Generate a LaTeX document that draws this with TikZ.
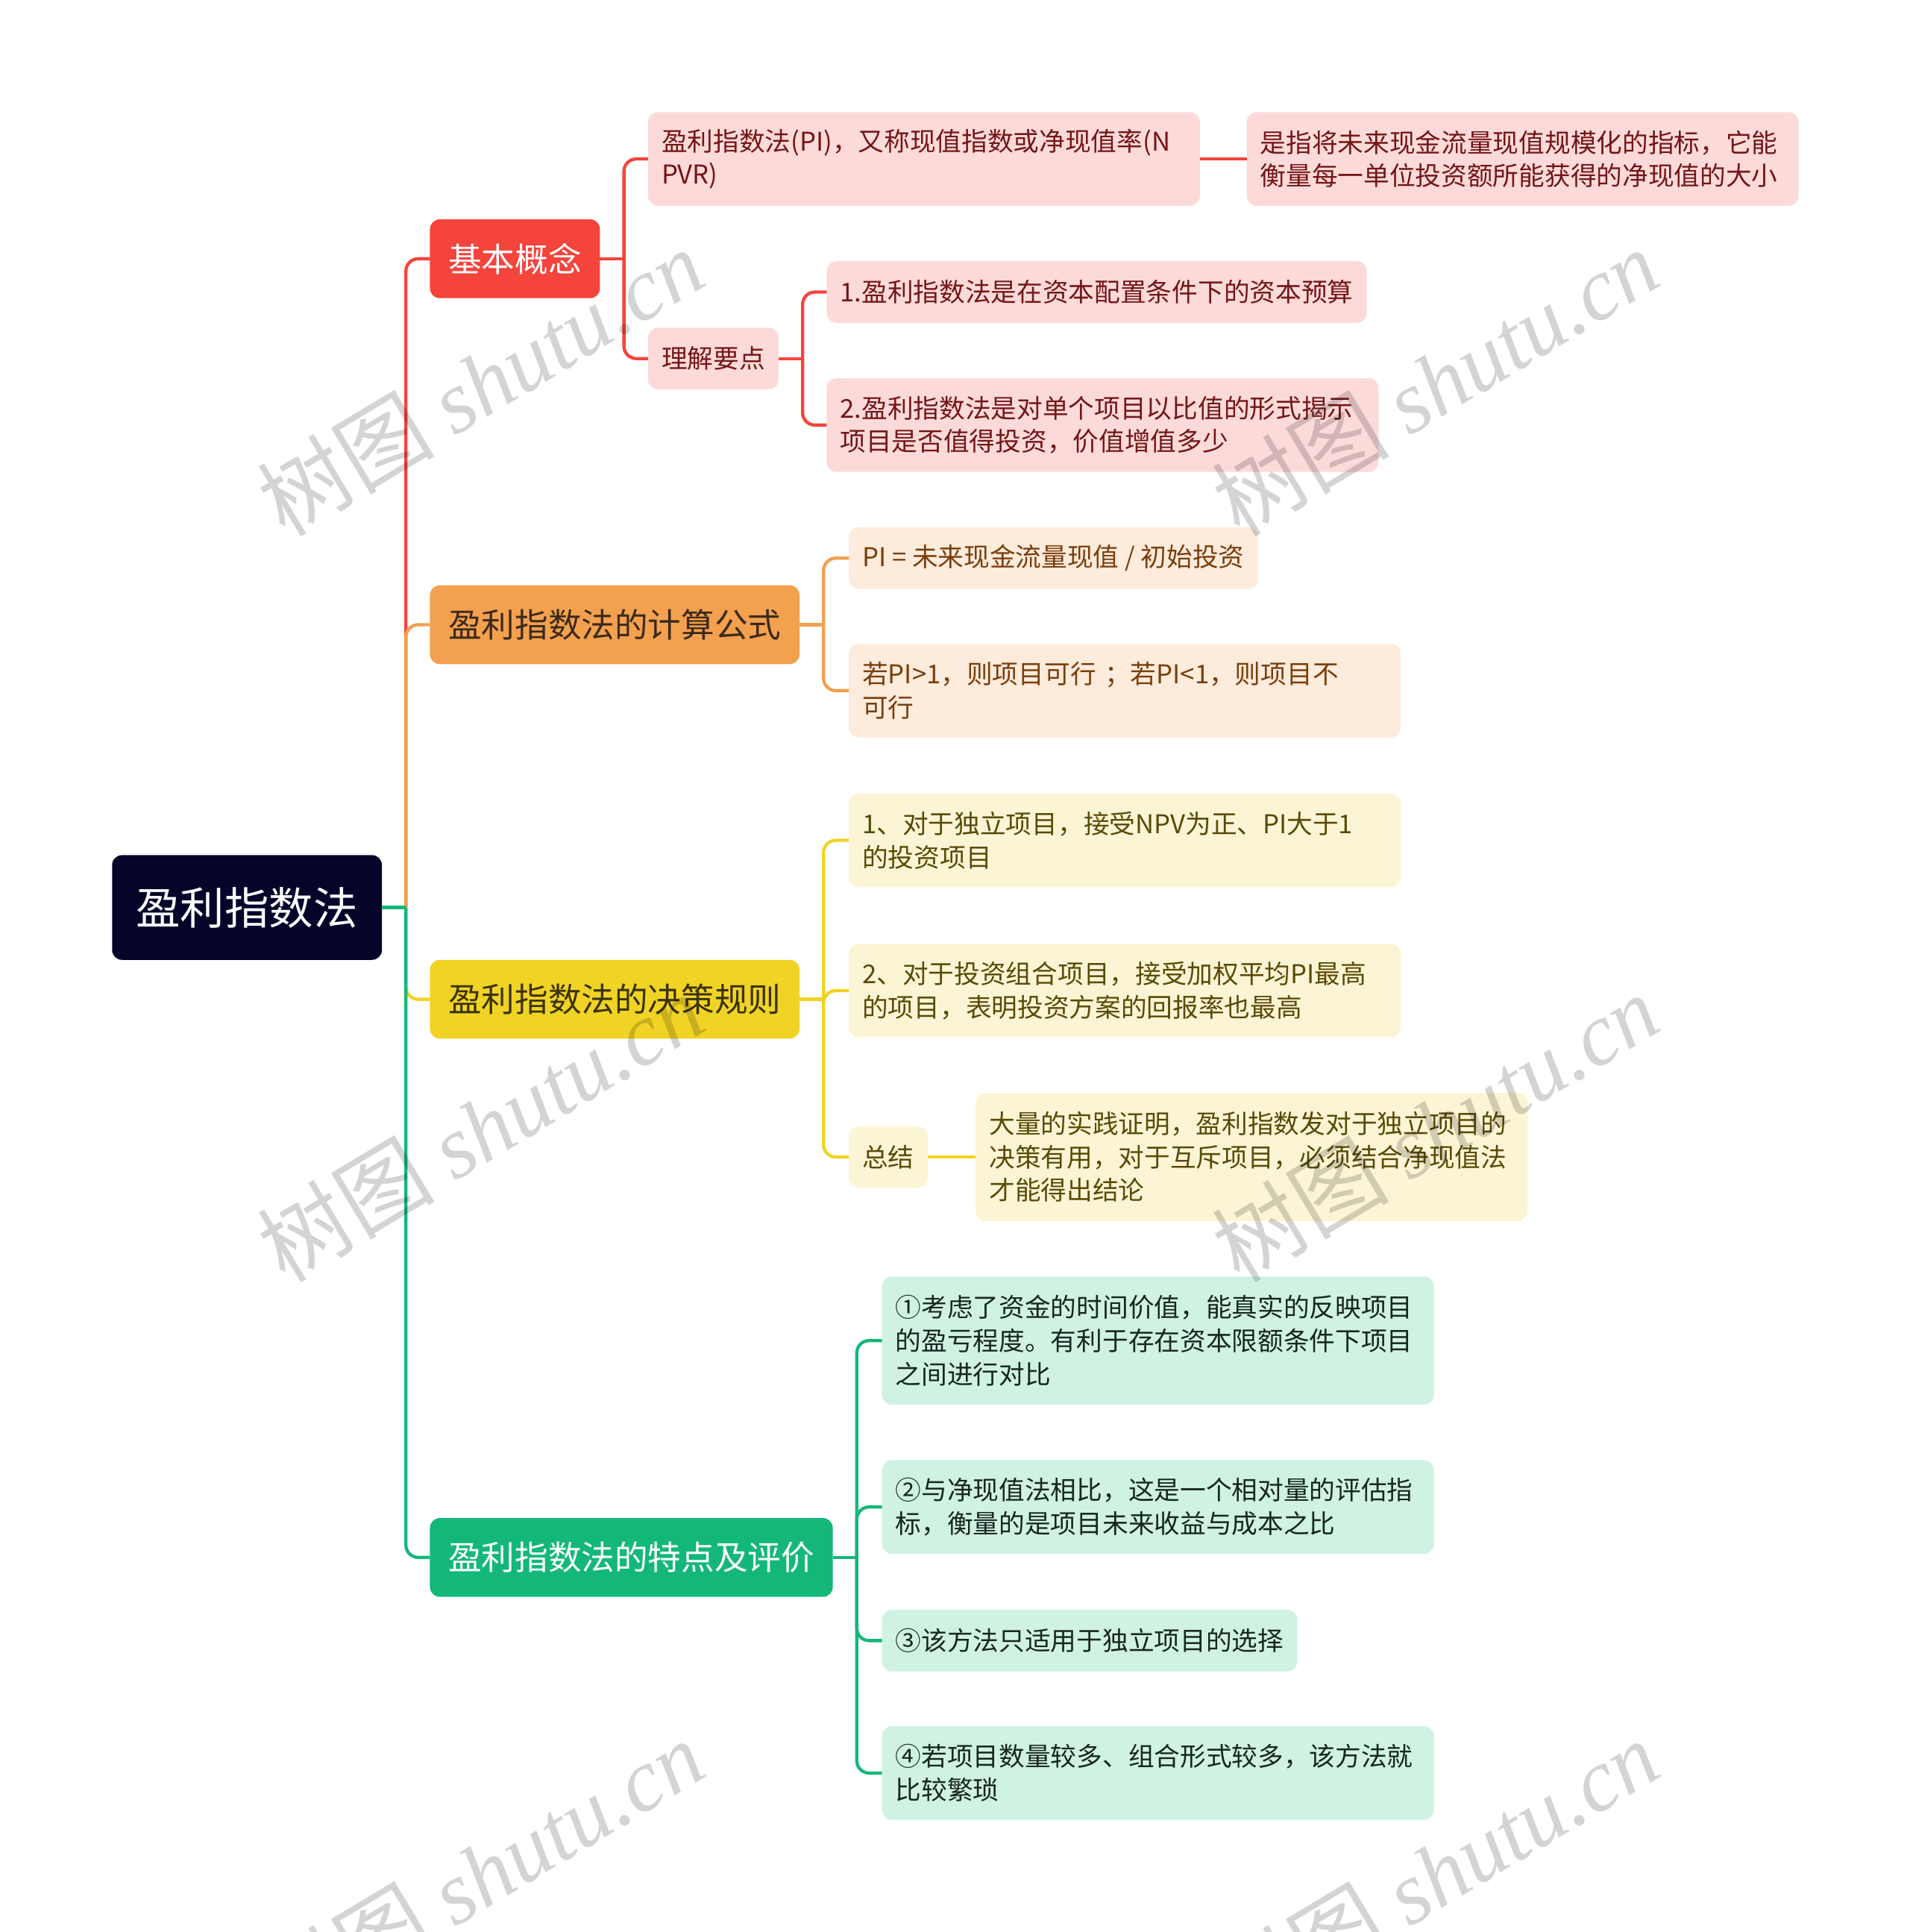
\documentclass[tikz,border=0pt]{standalone}
\usepackage{fontspec}
\setmainfont{Noto Sans CJK SC}
\newfontfamily\stampfont{Liberation Serif}
\usepackage{tikz}
\usetikzlibrary{positioning,calc}

\definecolor{rootbg}{HTML}{05052A}
\definecolor{redmain}{HTML}{F4443C}
\definecolor{orangemain}{HTML}{F3A04F}
\definecolor{yellowmain}{HTML}{F1D325}
\definecolor{greenmain}{HTML}{13B879}
\definecolor{redsoft}{HTML}{FDDADA}
\definecolor{orangesoft}{HTML}{FDEBDC}
\definecolor{yellowsoft}{HTML}{FCF5D5}
\definecolor{greensoft}{HTML}{CFF2E3}
\definecolor{redink}{HTML}{741616}
\definecolor{orangeink}{HTML}{7A3F0C}
\definecolor{yellowink}{HTML}{5A4A06}
\definecolor{greenink}{HTML}{17261F}
\definecolor{orangedark}{HTML}{3B2A18}
\definecolor{yellowdark}{HTML}{3A3208}

\tikzset{
    topic/.style={rounded corners=8pt, outer sep=0pt, inner ysep=0pt, anchor=west},
    rootnode/.style={topic, fill=rootbg, text=white, inner xsep=19.5pt, minimum height=85pt, font=\fontsize{36}{40}\selectfont},
    branch/.style={topic, fill=#1main, inner xsep=15pt, minimum height=64pt, font=\fontsize{27}{32}\selectfont},
    leaf/.style={topic, fill=#1soft, text=#1ink, inner xsep=11pt, minimum height=50pt, align=left, font=\fontsize{21}{27}\selectfont},
    twoline/.style={text width=426pt, minimum height=76pt},
    threeline/.style={text width=426pt, minimum height=104pt},
    link/.style={draw=#1, line width=2.6pt, rounded corners=10pt},
    stamp/.style={rotate=31, text=black, opacity=0.17, font=\fontsize{72}{72}\selectfont},
}

\begin{document}
\begin{tikzpicture}[x=1pt,y=-1pt]
    \useasboundingbox (0,0) rectangle (1550,1568);

    % Root and main branches
    \node[rootnode] (root) at (91,736.5) {盈利指数法};
    \node[branch=red, text=white] (concept) at (349,210) {基本概念};
    \node[branch=orange, text=orangedark] (formula) at (349,507) {盈利指数法的计算公式};
    \node[branch=yellow, text=yellowdark] (rule) at (349,811) {盈利指数法的决策规则};
    \node[branch=green, text=white] (review) at (349,1264) {盈利指数法的特点及评价};

    % Basic concept
    \node[leaf=red, twoline] (def) at (526,129) {盈利指数法(PI)，又称现值指数或净现值率(N\\PVR)};
    \node[leaf=red, twoline] (defnote) at (1012,129) {是指将未来现金流量现值规模化的指标，它能\\衡量每一单位投资额所能获得的净现值的大小};
    \node[leaf=red] (points) at (526,291) {理解要点};
    \node[leaf=red] (point1) at (671,237) {1.盈利指数法是在资本配置条件下的资本预算};
    \node[leaf=red, twoline] (point2) at (671,345) {2.盈利指数法是对单个项目以比值的形式揭示\\项目是否值得投资，价值增值多少};

    % Formula
    \node[leaf=orange] (pieq) at (689,453) {PI = 未来现金流量现值 / 初始投资};
    \node[leaf=orange, twoline] (pirule) at (689,560.5) {若PI>1，则项目可行 ；若PI<1，则项目不\\可行};

    % Decision rule
    \node[leaf=yellow, twoline] (rule1) at (689,682) {1、对于独立项目，接受NPV为正、PI大于1\\的投资项目};
    \node[leaf=yellow, twoline] (rule2) at (689,804) {2、对于投资组合项目，接受加权平均PI最高\\的项目，表明投资方案的回报率也最高};
    \node[leaf=yellow] (summary) at (689,939) {总结};
    \node[leaf=yellow, threeline] (summarytext) at (792,939) {大量的实践证明，盈利指数发对于独立项目的\\决策有用，对于互斥项目，必须结合净现值法\\才能得出结论};

    % Features and evaluation
    \node[leaf=green, threeline] (feat1) at (716,1088) {①考虑了资金的时间价值，能真实的反映项目\\的盈亏程度。有利于存在资本限额条件下项目\\之间进行对比};
    \node[leaf=green, twoline] (feat2) at (716,1223) {②与净现值法相比，这是一个相对量的评估指\\标，衡量的是项目未来收益与成本之比};
    \node[leaf=green] (feat3) at (716,1331.5) {③该方法只适用于独立项目的选择};
    \node[leaf=green, twoline] (feat4) at (716,1439) {④若项目数量较多、组合形式较多，该方法就\\比较繁琐};

    % Connectors from the root
    \coordinate (hub) at ($(root.east)+(19.5,0)$);
    \foreach \b/\c in {concept/redmain,formula/orangemain,rule/yellowmain,review/greenmain}
        \draw[link=\c] (hub) |- (\b.west);
    \draw[link=greenmain] (root.east) -- (hub);

    % Connectors inside the branches
    \coordinate (concepthub) at ($(concept.east)+(19.5,0)$);
    \draw[link=redmain] (concept.east) -- (concepthub);
    \foreach \n in {def,points}
        \draw[link=redmain] (concepthub) |- (\n.west);
    \draw[link=redmain] (def.east) -- (defnote.west);
    \coordinate (pointshub) at ($(points.east)+(19.5,0)$);
    \draw[link=redmain] (points.east) -- (pointshub);
    \foreach \n in {point1,point2}
        \draw[link=redmain] (pointshub) |- (\n.west);

    \coordinate (formulahub) at ($(formula.east)+(19.5,0)$);
    \draw[link=orangemain] (formula.east) -- (formulahub);
    \foreach \n in {pieq,pirule}
        \draw[link=orangemain] (formulahub) |- (\n.west);

    \coordinate (rulehub) at ($(rule.east)+(19.5,0)$);
    \draw[link=yellowmain] (rule.east) -- (rulehub);
    \foreach \n in {rule1,rule2,summary}
        \draw[link=yellowmain] (rulehub) |- (\n.west);
    \draw[link=yellowmain] (summary.east) -- (summarytext.west);

    \coordinate (reviewhub) at ($(review.east)+(19.5,0)$);
    \draw[link=greenmain] (review.east) -- (reviewhub);
    \foreach \n in {feat1,feat2,feat3,feat4}
        \draw[link=greenmain] (reviewhub) |- (\n.west);

    % Watermark
    \foreach \wx/\wy in {390/310,1165/310,390/915,1165/915,390/1520,1165/1520}
        \node[stamp] (wm-\wx-\wy) at (\wx,\wy) {树图 {\stampfont\itshape shutu.cn}};
\end{tikzpicture}
\end{document}
